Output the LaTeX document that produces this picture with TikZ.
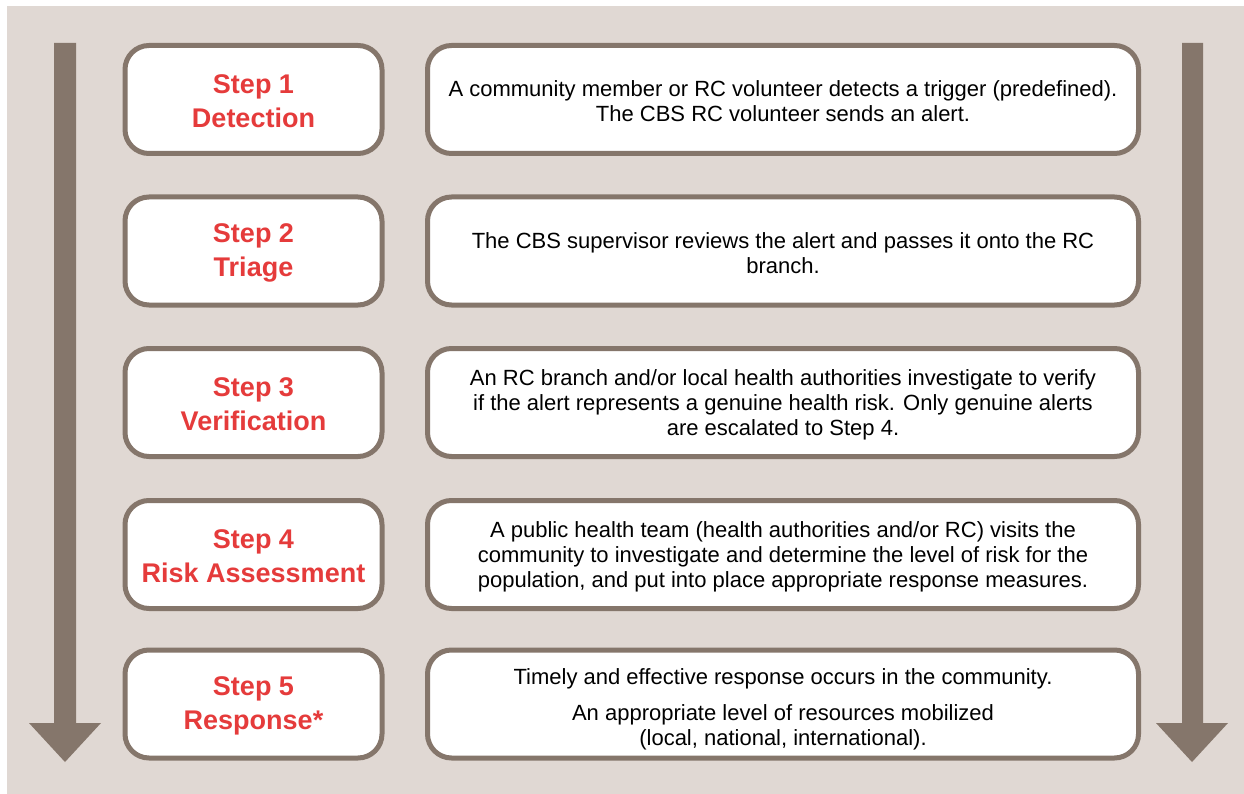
\documentclass[tikz,border=0pt]{standalone}
\usepackage{fontspec}
\setmainfont{Liberation Sans}
\definecolor{bgc}{HTML}{E0D8D3}
\definecolor{brd}{HTML}{85766B}
\definecolor{redc}{HTML}{E53B3B}
\tikzset{
  x=1pt,y=-1pt,
  roundbox/.style={draw=brd,line width=5pt,fill=white,rounded corners=24pt,minimum height=108pt,inner sep=0pt},
  stepbox/.style={roundbox,minimum width=257pt},
  descbox/.style={roundbox,minimum width=711pt},
  steptext/.style={align=center,inner sep=0pt,font=\fontsize{27}{34}\selectfont\bfseries,text=redc},
  desctext/.style={align=center,inner sep=0pt,font=\fontsize{22}{25}\selectfont,text=black},
  bigarrow/.style={draw=none,fill=brd}
}
\begin{document}
\begin{tikzpicture}
\useasboundingbox (0,0) rectangle (1244,794);
\fill[white] (0,0) rectangle (1244,794);
\fill[bgc] (7,6) rectangle (1244,794);
% arrows
\fill[bigarrow] (54,43) -- (76,43) -- (76,723) -- (101,723) -- (65,762) -- (29,723) -- (54,723) -- cycle;
\fill[bigarrow] (1182,43) -- (1203,43) -- (1203,723) -- (1228,723) -- (1192,762) -- (1156,723) -- (1182,723) -- cycle;
% boxes
\node[stepbox] (s1) at (253.5,99.5) {};
\node[stepbox] (s2) at (253.5,251) {};
\node[stepbox] (s3) at (253.5,402.5) {};
\node[stepbox] (s4) at (253.5,554.5) {};
\node[stepbox] (s5) at (253.5,704) {};
\node[descbox] (d1) at (783,99.5) {};
\node[descbox] (d2) at (783,251) {};
\node[descbox] (d3) at (783,402.5) {};
\node[descbox] (d4) at (783,554.5) {};
\node[descbox] (d5) at (783,704) {};
% texts
\node[steptext] (t1) at ([yshift=-2pt]s1.center) {Step 1\\Detection};
\node[steptext] (t2) at ([yshift=-2pt]s2.center) {Step 2\\Triage};
\node[steptext] (t3) at ([yshift=-2pt]s3.center) {Step 3\\Verification};
\node[steptext] (t4) at ([yshift=-2pt]s4.center) {Step 4\\Risk Assessment};
\node[steptext] (t5) at ([yshift=-2pt]s5.center) {Step 5\\Response*};
\node[desctext] (e1) at ([yshift=-2pt]d1.center) {A community member or RC volunteer detects a trigger (predefined).\\The CBS RC volunteer sends an alert.};
\node[desctext] (e2) at ([yshift=-2pt]d2.center) {The CBS supervisor reviews the alert and passes it onto the RC\\branch.};
\node[desctext] (e3) at ([yshift=-2pt]d3.center) {An RC branch and/or local health authorities investigate to verify\\if the alert represents a genuine health risk. Only genuine alerts\\are escalated to Step 4.};
\node[desctext] (e4) at ([yshift=-2pt]d4.center) {A public health team (health authorities and/or RC) visits the\\community to investigate and determine the level of risk for the\\population, and put into place appropriate response measures.};
\node[desctext] (e5) at ([yshift=-5pt]d5.center) {Timely and effective response occurs in the community.\\[11pt]An appropriate level of resources mobilized\\(local, national, international).};
\end{tikzpicture}
\end{document}
